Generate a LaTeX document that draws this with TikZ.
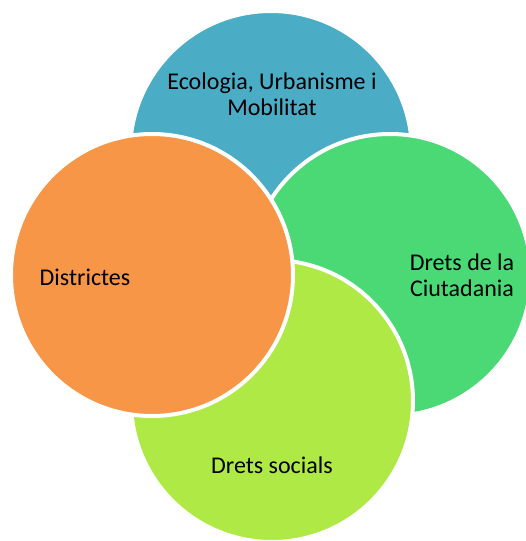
\documentclass[tikz,border=0pt]{standalone}
\usepackage{fontspec}
\setmainfont{Carlito}
\definecolor{cblue}{HTML}{4BACC6}
\definecolor{cgreen}{HTML}{4AD975}
\definecolor{clime}{HTML}{AEE946}
\definecolor{corange}{HTML}{F79646}
\tikzset{
  bubble/.style={circle, minimum size=282pt, inner sep=0pt, draw=white, line width=4pt},
  label/.style={font=\fontsize{24}{26}\selectfont, text=black, align=center, inner sep=0pt, anchor=base}
}
\begin{document}
\begin{tikzpicture}[x=1pt,y=-1pt]
\clip (0,0) rectangle (526,541);
\fill[white] (0,0) rectangle (526,541);
\node[bubble, fill=cblue]   (eco)  at (271,152) {};
\node[bubble, fill=cgreen]  (ciu)  at (390,275) {};
\node[bubble, fill=clime]   (soc)  at (272,401) {};
\node[bubble, fill=corange] (dis)  at (152,275) {};
\node[label] (teco) at (272,115) {Ecologia, Urbanisme i\\Mobilitat};
\node[label] (tciu) at (462,296) {Drets de la\\Ciutadania};
\node[label] (tdis) at (85,285) {Districtes};
\node[label] (tsoc) at (272,473) {Drets socials};
\end{tikzpicture}
\end{document}
